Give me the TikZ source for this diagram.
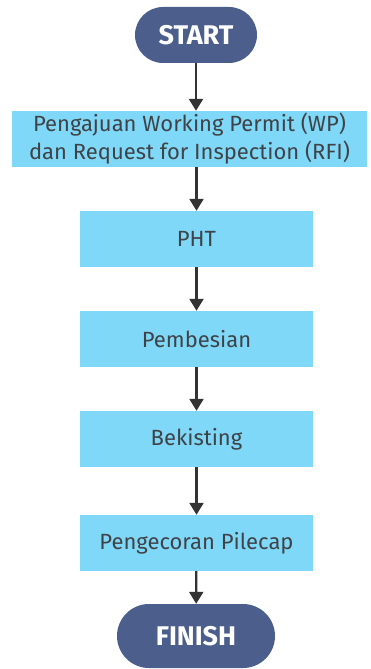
\documentclass[tikz,border=0pt]{standalone}
\usepackage{fontspec}
\setmainfont{Fira Sans}
\usetikzlibrary{arrows.meta}
\definecolor{pill}{HTML}{4B5E8C}
\definecolor{boxc}{HTML}{80D8F8}
\definecolor{txt}{HTML}{3F4347}
\definecolor{arr}{HTML}{333333}
\begin{document}
\begin{tikzpicture}[x=1pt,y=-1pt,
  terminal/.style={fill=pill,rounded corners=28pt,text=white,font=\fontsize{27}{30}\selectfont\bfseries,inner sep=0pt},
  stepbox/.style={fill=boxc,text=txt,font=\fontsize{22}{28}\selectfont,align=center,inner sep=0pt},
  flow/.style={draw=arr,line width=2.3pt,-{Triangle[width=14pt,length=12pt]}}]
\useasboundingbox (0,0) rectangle (371,669);
\node[terminal,minimum width=122pt,minimum height=56pt] (start) at (196,35) {START};
\node[stepbox,minimum width=355pt,minimum height=56pt] (wp) at (189.5,139) {Pengajuan Working Permit (WP)\\dan Request for Inspection (RFI)};
\node[stepbox,minimum width=233pt,minimum height=56pt] (pht) at (196.5,239) {PHT};
\node[stepbox,minimum width=233pt,minimum height=56pt] (bes) at (196.5,339) {Pembesian};
\node[stepbox,minimum width=233pt,minimum height=56pt] (bek) at (196.5,439) {Bekisting};
\node[stepbox,minimum width=233pt,minimum height=56pt] (cor) at (196.5,543) {Pengecoran Pilecap};
\node[terminal,minimum width=158pt,minimum height=64pt,rounded corners=32pt] (fin) at (196,636) {FINISH};
\draw[flow] (start) -- (start |- wp.north);
\draw[flow] (pht |- wp.south) -- (pht);
\draw[flow] (pht) -- (bes);
\draw[flow] (bes) -- (bek);
\draw[flow] (bek) -- (cor);
\draw[flow] (cor) -- (fin);
\end{tikzpicture}
\end{document}
